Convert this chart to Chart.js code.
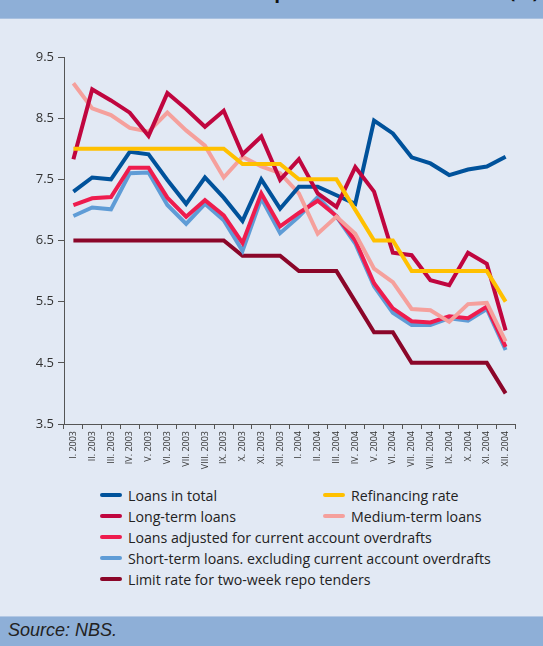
<!DOCTYPE html>
<html>
<head>
<meta charset="utf-8">
<script src="https://cdn.jsdelivr.net/npm/chart.js@4"></script>
<style>
  html, body { margin: 0; padding: 0; }
  body { width: 543px; height: 646px; background: #e2e9f4; position: relative; overflow: hidden; font-family: "Open Sans", sans-serif; }
  #top { position: absolute; left: 0; top: 0; width: 543px; height: 18px; background: #8eafd7; border-bottom: 1px solid #a9c1e0; overflow: hidden; z-index: 2; }
  #top span { position: absolute; right: 4px; top: -22px; font: bold 19px "Open Sans", sans-serif; color: #111; white-space: nowrap; }
  #wrap { position: absolute; left: 0; top: 0; width: 543px; height: 474px; }
  #legend { position: absolute; left: 0; top: 485px; width: 543px; }
  .item { position: absolute; height: 21px; line-height: 21px; font-size: 14.2px; color: #222; white-space: nowrap; }
  .item i { position: absolute; left: 0; top: 8px; width: 22px; height: 4px; border-radius: 2px; }
  .item b { font-weight: normal; position: absolute; left: 28px; top: 0; }
  #foot { position: absolute; left: 0; top: 616px; width: 543px; height: 30px; background: #8eafd7; border-top: 1px solid #b3c8e4; }
  #foot span { position: absolute; left: 8px; top: 3px; font: italic 18px "Liberation Sans", Arial, sans-serif; color: #222; }
</style>
</head>
<body>
<div id="top"><span>Chart 9 Comparison of interest rates (%)</span></div>
<div id="wrap"><canvas id="grafico"></canvas></div>
<div id="legend"></div>
<div id="foot"><span>Source: NBS.</span></div>
<script>
const meses = ["I. 2003", "II. 2003", "III. 2003", "IV. 2003", "V. 2003", "VI. 2003", "VII. 2003", "VIII. 2003",
  "IX. 2003", "X. 2003", "XI. 2003", "XII. 2003", "I. 2004", "II. 2004", "III. 2004", "IV. 2004", "V. 2004",
  "VI. 2004", "VII. 2004", "VIII. 2004", "IX. 2004", "X. 2004", "XI. 2004", "XII. 2004"];
const yTicks = [3.5, 4.5, 5.5, 6.5, 7.5, 8.5, 9.5];

const loansTotal = [7.30, 7.53, 7.50, 7.95, 7.91, 7.49, 7.10, 7.53, 7.20, 6.82, 7.50, 7.02, 7.38, 7.38, 7.24, 7.10, 8.46, 8.25, 7.86, 7.76, 7.57, 7.66, 7.71, 7.87];
const refinancing = [8, 8, 8, 8, 8, 8, 8, 8, 8, 7.75, 7.75, 7.75, 7.5, 7.5, 7.5, 7.0, 6.5, 6.5, 6.0, 6.0, 6.0, 6.0, 6.0, 5.5];
const longTerm = [7.83, 8.97, 8.79, 8.59, 8.21, 8.91, 8.65, 8.36, 8.62, 7.91, 8.20, 7.49, 7.83, 7.27, 7.05, 7.70, 7.30, 6.30, 6.26, 5.85, 5.77, 6.30, 6.12, 5.03];
const mediumTerm = [9.07, 8.66, 8.55, 8.34, 8.28, 8.59, 8.30, 8.05, 7.53, 7.87, 7.71, 7.60, 7.27, 6.61, 6.89, 6.61, 6.04, 5.82, 5.38, 5.36, 5.17, 5.46, 5.48, 4.85];
const adjusted = [7.08, 7.19, 7.21, 7.69, 7.69, 7.20, 6.89, 7.16, 6.91, 6.46, 7.27, 6.73, 6.95, 7.15, 6.90, 6.50, 5.80, 5.39, 5.18, 5.16, 5.26, 5.23, 5.42, 4.76];
const shortTerm = [6.90, 7.04, 7.01, 7.60, 7.61, 7.08, 6.77, 7.10, 6.83, 6.33, 7.19, 6.62, 6.89, 7.21, 6.89, 6.45, 5.75, 5.32, 5.12, 5.12, 5.23, 5.19, 5.38, 4.71];
const limitRate = [6.5, 6.5, 6.5, 6.5, 6.5, 6.5, 6.5, 6.5, 6.5, 6.25, 6.25, 6.25, 6.0, 6.0, 6.0, 5.5, 5.0, 5.0, 4.5, 4.5, 4.5, 4.5, 4.5, 4.0];

// ordem de desenho: o primeiro fica por cima
const series = [
  { nome: "Refinancing rate", dados: refinancing, cor: "#ffc000", col: 1, row: 0 },
  { nome: "Long-term loans", dados: longTerm, cor: "#c0063f", col: 0, row: 1 },
  { nome: "Loans in total", dados: loansTotal, cor: "#00529b", col: 0, row: 0 },
  { nome: "Medium-term loans", dados: mediumTerm, cor: "#f5a09c", col: 1, row: 1 },
  { nome: "Loans adjusted for current account overdrafts", dados: adjusted, cor: "#ee1c4e", col: 0, row: 2 },
  { nome: "Short-term loans. excluding current account overdrafts", dados: shortTerm, cor: "#5f9cd6", col: 0, row: 3 },
  { nome: "Limit rate for two-week repo tenders", dados: limitRate, cor: "#8b0629", col: 0, row: 4 }
];

// legenda em HTML
const legend = document.getElementById("legend");
series.forEach(s => {
  const el = document.createElement("div");
  el.className = "item";
  el.style.left = (s.col ? 323 : 100) + "px";
  el.style.top = (s.row * 21) + "px";
  el.innerHTML = `<i style="background:${s.cor}"></i><b>${s.nome}</b>`;
  legend.appendChild(el);
});

const eixo = "#555";
new Chart(document.getElementById("grafico"), {
  type: "line",
  data: {
    labels: meses,
    datasets: series.map(s => ({
      label: s.nome,
      data: s.dados,
      borderColor: s.cor,
      backgroundColor: s.cor,
      borderWidth: 4,
      pointRadius: 0,
      tension: 0,
      borderJoinStyle: "miter",
      fill: false
    }))
  },
  options: {
    responsive: true,
    maintainAspectRatio: false,
    animation: false,
    layout: { padding: { top: 57, right: 28, left: 0, bottom: 0 } },
    plugins: { legend: { display: false }, tooltip: { enabled: false } },
    scales: {
      x: {
        offset: true,
        afterFit: s => { s.height = 50; },
        grid: { offset: true, drawOnChartArea: false, tickLength: 5, color: eixo },
        border: { color: eixo, width: 1 },
        ticks: { minRotation: 90, maxRotation: 90, autoSkip: false, padding: 2, color: "#333",
          font: { family: "Open Sans", size: 9 } }
      },
      y: {
        min: 3.5,
        max: 9.5,
        afterFit: s => { s.width = 64; },
        afterBuildTicks: s => { s.ticks = yTicks.map(v => ({ value: v })); },
        grid: { drawOnChartArea: false, tickLength: 6, color: eixo },
        border: { color: eixo, width: 1 },
        ticks: { padding: 4, color: "#333", font: { family: "Open Sans", size: 13 },
          callback: v => Number(v).toFixed(1) }
      }
    }
  }
});
</script>
</body>
</html>
